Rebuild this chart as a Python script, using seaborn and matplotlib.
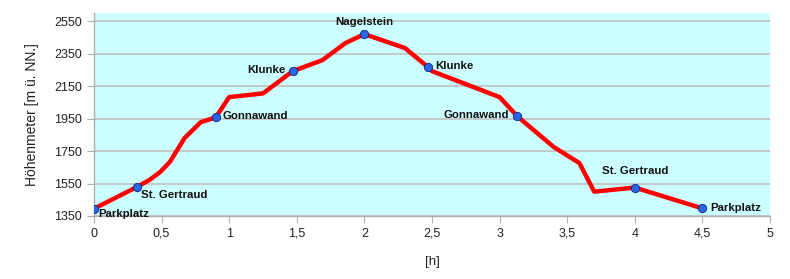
import matplotlib
matplotlib.use("Agg")
import matplotlib.pyplot as plt
import seaborn as sns
import pandas as pd
from matplotlib.ticker import FuncFormatter

# Route profile (time in hours, elevation in m)
route_time = [0.0, 0.32, 0.41, 0.49, 0.56, 0.67, 0.79, 0.90, 1.0, 1.25, 1.47, 1.69, 1.86, 2.0,
              2.30, 2.47, 2.50, 3.0, 3.13, 3.40, 3.59, 3.70, 4.0, 4.5]
route_elev = [1395, 1530, 1572, 1621, 1682, 1830, 1928, 1957, 2082, 2105, 2242, 2310, 2415, 2470,
              2384, 2267, 2242, 2082, 1965, 1775, 1676, 1500, 1525, 1397]

# Waypoints
wp_names = ["Parkplatz", "St. Gertraud", "Gonnawand", "Klunke", "Nagelstein",
            "Klunke", "Gonnawand", "St. Gertraud", "Parkplatz"]
wp_time = [0.0, 0.32, 0.90, 1.47, 2.0, 2.47, 3.13, 4.0, 4.5]
wp_elev = [1395, 1530, 1957, 2242, 2470, 2267, 1965, 1525, 1397]

x_ticks = [0, 0.5, 1, 1.5, 2, 2.5, 3, 3.5, 4, 4.5, 5]
y_ticks = [1350, 1550, 1750, 1950, 2150, 2350, 2550]

sns.set_style("white")
plt.rcParams['font.family'] = ['Liberation Sans', 'DejaVu Sans']

fig = plt.figure(figsize=(7.9, 2.79), dpi=100)
ax = fig.add_axes([94/790, 1-216/279, (770-94)/790, (216-13)/279])
ax.set_facecolor("#ccffff")

route = pd.DataFrame({"t": route_time, "h": route_elev})
wps = pd.DataFrame({"t": wp_time, "h": wp_elev, "name": wp_names})

sns.lineplot(data=route, x="t", y="h", ax=ax, color="#ff0000", linewidth=3.2,
             sort=False, estimator=None, zorder=3)
sns.scatterplot(data=wps, x="t", y="h", ax=ax, color="#2a66e0", edgecolor="#0a2a90",
                linewidth=0.6, s=36, zorder=4)

# label offsets in points (dx, dy, ha, va)
offsets = [(3, 0, "left", "top"), (3, -2, "left", "top"), (5, 1, "left", "center"),
           (-5, 1, "right", "center"), (0, 5, "center", "bottom"), (5, 1, "left", "center"),
           (-6, 1, "right", "center"), (0, 8, "center", "bottom"), (6, 0, "left", "center")]
for (n, t, h), (dx, dy, ha, va) in zip(zip(wp_names, wp_time, wp_elev), offsets):
    ax.annotate(n, (t, h), xytext=(dx, dy), textcoords="offset points", ha=ha, va=va,
                fontsize=8.2, fontweight="bold", color="#111111", zorder=5)

ax.set_xlim(0, 5)
ax.set_ylim(1350, 2600)
ax.set_xticks(x_ticks)
ax.set_yticks(y_ticks)
ax.xaxis.set_major_formatter(FuncFormatter(lambda v, p: ("%g" % v).replace(".", ",")))
ax.yaxis.grid(True, color="#c0c0c0", linewidth=1.2)
ax.xaxis.grid(False)
ax.set_axisbelow(True)
for s in ["top", "right"]:
    ax.spines[s].set_visible(False)
for s in ["left", "bottom"]:
    ax.spines[s].set_color("#b0b0b0")
    ax.spines[s].set_linewidth(1)
ax.tick_params(axis="both", which="both", length=5, color="#b0b0b0", labelsize=9,
               labelcolor="#222222", direction="out", bottom=True, left=True)
ax.set_xlabel("[h]", fontsize=9.5, color="#222222", labelpad=12)
ax.set_ylabel("Höhenmeter [m ü. NN.]", fontsize=10, color="#222222", labelpad=11)

fig.savefig("out.png", dpi=100)
